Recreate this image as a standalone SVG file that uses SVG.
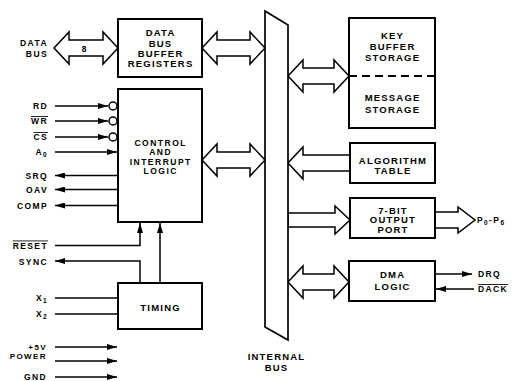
<svg xmlns="http://www.w3.org/2000/svg" width="513" height="381" viewBox="0 0 513 381">
<defs>
<marker id="ah" viewBox="0 0 10 6" refX="10" refY="3" markerWidth="10" markerHeight="6" markerUnits="userSpaceOnUse" orient="auto"><path d="M0,0 L10,3 L0,6 z" fill="#000"/></marker>
</defs>
<style>
.box{fill:#fff;stroke:#000;stroke-width:2}
.ba{fill:#fff;stroke:#000;stroke-width:1.5;stroke-linejoin:miter}
.w{fill:none;stroke:#000;stroke-width:1.5}
.c{fill:#fff;stroke:#000;stroke-width:1.5}
text{font-family:"Liberation Sans",Arial,Helvetica,sans-serif;font-weight:bold;fill:#000}
.t{font-size:9.5px;letter-spacing:1.2px;text-anchor:middle}
.tc{font-size:8.5px;letter-spacing:1.5px;text-anchor:middle}
.s{font-size:8.5px;letter-spacing:1.4px;text-anchor:end}
.p{font-size:8px;letter-spacing:1.4px;text-anchor:end}
.r{font-size:8.5px;letter-spacing:1.4px;text-anchor:start}
.ov{text-decoration:overline}
</style>
<rect width="513" height="381" fill="#fff"/>

<g id="connectors">
  <path class="ba" d="M54,48 L69,32 L69,40 L103,40 L103,32 L118,48 L103,64 L103,56 L69,56 L69,64 Z"/>
  <path class="ba" d="M202,48 L217,32 L217,40 L250,40 L250,32 L265,48 L250,64 L250,56 L217,56 L217,64 Z"/>
  <path class="ba" d="M202,160 L217,144 L217,152 L250,152 L250,144 L265,160 L250,176 L250,168 L217,168 L217,176 Z"/>
  <path class="ba" d="M288,76 L303,60 L303,68 L334,68 L334,60 L349,76 L334,92 L334,84 L303,84 L303,92 Z"/>
  <path class="ba" d="M288,163 L303,147 L303,155 L350,155 L350,171 L303,171 L303,179 Z"/>
  <path class="ba" d="M288,213 L335,213 L335,206 L350,220 L335,234 L335,227 L288,227 Z"/>
  <path class="ba" d="M435,212 L458,212 L458,207 L475,220 L458,233 L458,228 L435,228 Z"/>
  <path class="ba" d="M288,282 L303,266 L303,274 L334,274 L334,266 L349,282 L334,298 L334,290 L303,290 L303,298 Z"/>

  <path class="w" d="M55,106 H108" marker-end="url(#ah)"/>
  <circle class="c" cx="113" cy="106" r="4"/>
  <path class="w" d="M55,121 H108" marker-end="url(#ah)"/>
  <circle class="c" cx="113" cy="121" r="4"/>
  <path class="w" d="M55,137 H108" marker-end="url(#ah)"/>
  <circle class="c" cx="113" cy="137" r="4"/>
  <path class="w" d="M55,152 H117" marker-end="url(#ah)"/>
  <path class="w" d="M118,175.5 H55" marker-end="url(#ah)"/>
  <path class="w" d="M118,189.5 H55" marker-end="url(#ah)"/>
  <path class="w" d="M118,205.5 H55" marker-end="url(#ah)"/>
  <path class="w" d="M55,245.5 H140 V223" marker-end="url(#ah)"/>
  <path class="w" d="M160,283 V223" marker-end="url(#ah)"/>
  <path class="w" d="M140,283 V261 H55" marker-end="url(#ah)"/>
  <path class="w" d="M55,298 H118"/>
  <path class="w" d="M55,314 H118"/>
  <path class="w" d="M55,347 H117" marker-end="url(#ah)"/>
  <path class="w" d="M55,361 H117" marker-end="url(#ah)"/>
  <path class="w" d="M55,377 H117" marker-end="url(#ah)"/>
  <path class="w" d="M435,274 H472" marker-end="url(#ah)"/>
  <path class="w" d="M474,289 H436" marker-end="url(#ah)"/>
</g>

<g id="internal-bus">
  <polygon points="265,11 288,25 288,340 265,327" fill="#fff" stroke="#000" stroke-width="1.7"/>
  <text class="t" x="276.5" y="360">INTERNAL</text>
  <text class="t" x="276.5" y="370.5">BUS</text>
</g>

<g id="data-bus-buffer">
  <rect class="box" x="118" y="19" width="84" height="58"/>
  <text class="t" x="160.6" y="36.3">DATA</text>
  <text class="t" x="160.6" y="46.6">BUS</text>
  <text class="t" x="160.6" y="57">BUFFER</text>
  <text class="t" x="160.6" y="67.4">REGISTERS</text>
</g>

<g id="control-logic">
  <rect class="box" x="118" y="89" width="84" height="133"/>
  <text class="tc" x="160.7" y="145.5">CONTROL</text>
  <text class="tc" x="160.7" y="155">AND</text>
  <text class="tc" x="160.7" y="164.5">INTERRUPT</text>
  <text class="tc" x="160.7" y="174">LOGIC</text>
</g>

<g id="timing">
  <rect class="box" x="118" y="283" width="84" height="46"/>
  <text class="t" x="160.6" y="311.3">TIMING</text>
</g>

<g id="key-message-storage">
  <rect class="box" x="349" y="18" width="86" height="110"/>
  <line x1="349" y1="76" x2="435" y2="76" stroke="#000" stroke-width="2" stroke-dasharray="8,5"/>
  <text class="t" x="392.6" y="39.4">KEY</text>
  <text class="t" x="392.6" y="50.4">BUFFER</text>
  <text class="t" x="392.6" y="61.4">STORAGE</text>
  <text class="t" x="392.6" y="101.2">MESSAGE</text>
  <text class="t" x="392.6" y="113">STORAGE</text>
</g>

<g id="algorithm-table">
  <rect class="box" x="350" y="143" width="85" height="40"/>
  <text class="t" x="393" y="163.7">ALGORITHM</text>
  <text class="t" x="393" y="174">TABLE</text>
</g>

<g id="output-port">
  <rect class="box" x="350" y="198" width="85" height="40"/>
  <text class="t" x="393" y="213.7">7-BIT</text>
  <text class="t" x="393" y="223.4">OUTPUT</text>
  <text class="t" x="393" y="233.4">PORT</text>
</g>

<g id="dma-logic">
  <rect class="box" x="349" y="261" width="86" height="40"/>
  <text class="t" x="392.6" y="278.4">DMA</text>
  <text class="t" x="392.6" y="289.7">LOGIC</text>
</g>

<g id="signals">
  <text class="s" x="48" y="46">DATA</text>
  <text class="s" x="48" y="57">BUS</text>
  <text x="84" y="51.5" font-size="8.5" font-weight="normal" text-anchor="middle">8</text>
  <text class="s" x="48" y="109">RD</text>
  <text class="s ov" x="48" y="124">WR</text>
  <text class="s ov" x="48" y="140">CS</text>
  <text class="s" x="48" y="155">A<tspan font-size="6.5" dy="2">0</tspan></text>
  <text class="s" x="48" y="178.5">SRQ</text>
  <text class="s" x="48" y="192.5">OAV</text>
  <text class="s" x="48" y="208.5">COMP</text>
  <text class="s ov" x="48" y="248.5">RESET</text>
  <text class="s" x="48" y="264.5">SYNC</text>
  <text class="s" x="48" y="301">X<tspan font-size="6.5" dy="2">1</tspan></text>
  <text class="s" x="48" y="317">X<tspan font-size="6.5" dy="2">2</tspan></text>
  <text class="p" x="47" y="349.5">+5V</text>
  <text class="p" x="47" y="358.8">POWER</text>
  <text class="s" x="47" y="379.5">GND</text>
  <text class="r" x="477" y="223" font-size="8">P<tspan font-size="6.5" dy="2">0</tspan><tspan dy="-2">-P</tspan><tspan font-size="6.5" dy="2">6</tspan></text>
  <text class="r" x="478" y="277">DRQ</text>
  <text class="r ov" x="478" y="292">DACK</text>
</g>
</svg>
